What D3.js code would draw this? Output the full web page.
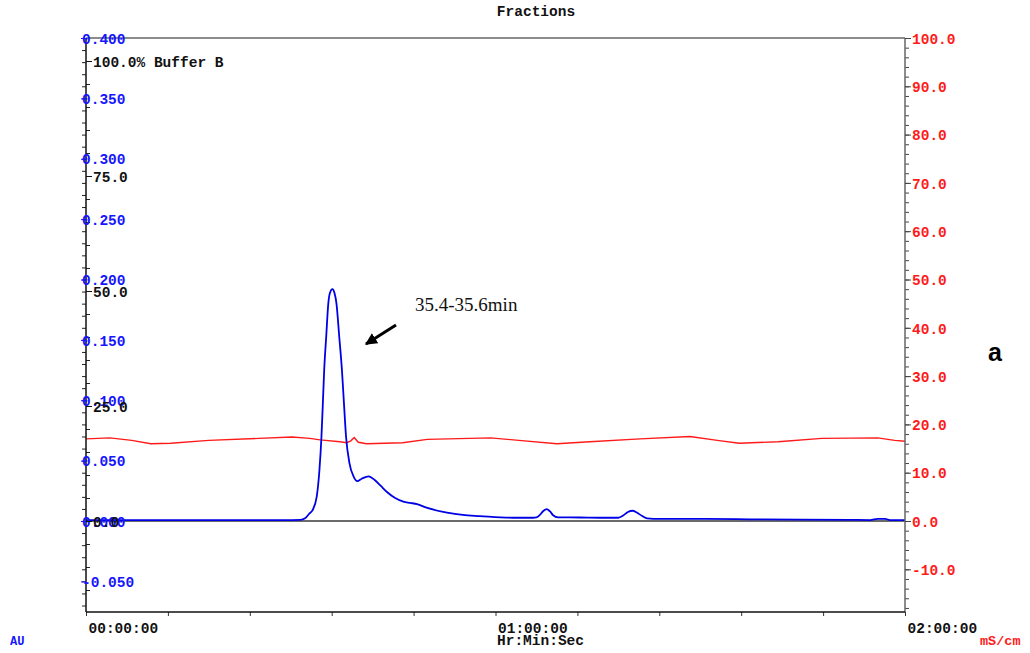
<!DOCTYPE html>
<html><head><meta charset="utf-8">
<script src="https://cdn.jsdelivr.net/npm/d3@7"></script>
<style>
body{margin:0;background:#fff;}
svg{display:block;}
text{font-family:"Liberation Mono","Courier New",monospace;font-weight:bold;font-size:14.5px;}
</style></head>
<body>
<svg id="c" width="1030" height="653"></svg>
<script>
// UV absorbance (AU) vs time (min)
const uvTime = [0,5,10,15,20,25,30,31.4,32.1,32.7,33.2,33.8,34.2,34.5,34.7,34.9,35.2,35.5,35.75,36.1,36.4,36.7,37.1,37.5,37.8,38.1,38.6,39.2,39.75,40.4,41.4,42.3,43.2,44.1,45.3,46.5,47.5,48.5,49.9,52.9,55.2,57.7,62.6,65.5,66.0,66.5,67.0,67.5,68.0,68.4,69.2,72.4,75.3,78.0,78.7,79.4,80.1,80.7,81.5,82.2,84.1,90,97.3,104.6,111.9,114.9,116.0,117.1,117.8,120];
const uvValue = [0.0007,0.0008,0.0007,0.0008,0.0008,0.0007,0.0008,0.0009,0.0022,0.006,0.009,0.020,0.042,0.070,0.097,0.125,0.153,0.180,0.189,0.192,0.189,0.180,0.153,0.125,0.097,0.070,0.048,0.037,0.033,0.035,0.037,0.034,0.029,0.024,0.019,0.016,0.015,0.014,0.011,0.0069,0.005,0.0041,0.0027,0.0027,0.003,0.005,0.0083,0.0099,0.0079,0.005,0.003,0.0029,0.0027,0.0027,0.0045,0.0075,0.0085,0.007,0.0041,0.0022,0.0017,0.0017,0.0014,0.0012,0.001,0.0008,0.0017,0.0017,0.0008,0.0008];
// Conductivity (mS/cm) vs time (min)
const condTime = [0,3.5,6.7,9.5,12.4,18.0,25.3,30.2,32.8,34.3,37.2,38.2,38.8,39.3,39.9,41.1,46.4,50.0,59.3,63.4,69.0,73.8,81.2,88.5,92.5,95.7,101.4,107.8,116.0,118.5,120];
const condValue = [17.0,17.2,16.7,16.0,16.1,16.7,17.1,17.4,17.1,16.8,16.4,16.2,16.6,17.3,16.3,16.0,16.2,16.9,17.2,16.7,16.0,16.4,17.0,17.5,16.7,16.1,16.4,17.1,17.2,16.7,16.5];
// Buffer B concentration (%)
const bufTime = [0,120];
const bufValue = [0,0];
// Tick labels
const auTicks = [-0.05,0,0.05,0.1,0.15,0.2,0.25,0.3,0.35,0.4];
const condTicks = [-10,0,10,20,30,40,50,60,70,80,90,100];
const bufTicks = [0,25,50,75,100];
const timeTicks = [0,60,120];
const timeLabels = ["00:00:00","01:00:00","02:00:00"];

const svg = d3.select("#c");
const L=86,R=905,T=38,B=612;
const x = d3.scaleLinear().domain([0,120]).range([L,R]);
const yAU = d3.scaleLinear().domain([0,0.4]).range([521,T]);
const yC = d3.scaleLinear().domain([0,100]).range([521,T]);
const yB = d3.scaleLinear().domain([0,100]).range([521,61]);

const BLUE="#1515ff", RED="#ff1a1a";
const FONT='"Liberation Mono",monospace';

svg.append("line").attr("x1",L).attr("x2",R).attr("y1",T).attr("y2",T).attr("stroke","#666").attr("stroke-width",1.5);

// Buffer B line (0%)
svg.append("path").datum(bufTime.map((t,i)=>[t,bufValue[i]]))
  .attr("fill","none").attr("stroke","#6a6a6a").attr("stroke-width",2)
  .attr("d",d3.line().x(d=>x(d[0])).y(d=>yB(d[1])));

// conductivity
svg.append("path").datum(condTime.map((t,i)=>[t,condValue[i]]))
  .attr("fill","none").attr("stroke",RED).attr("stroke-width",1.4)
  .attr("d",d3.line().x(d=>x(d[0])).y(d=>yC(d[1])));

// UV
svg.append("path").datum(uvTime.map((t,i)=>[t,uvValue[i]]))
  .attr("fill","none").attr("stroke","#0000e6").attr("stroke-width",1.8)
  .attr("d",d3.line().curve(d3.curveMonotoneX).x(d=>x(d[0])).y(d=>yAU(d[1])));

// Left AU axis (minor)
const auMinor = d3.range(-7,41).map(i=>i/100).filter(v=>yAU(v)<=B && yAU(v)>=T);
svg.append("g").attr("transform",`translate(${L},0)`)
  .call(d3.axisLeft(yAU).tickValues(auMinor).tickSize(4).tickFormat(""))
  .call(g=>{g.select(".domain").remove();g.selectAll("line").attr("stroke","#222");});
const bufMinor = d3.range(-4,21).map(i=>i*5).filter(v=>yB(v)<=B && yB(v)>=T);
svg.append("g").attr("transform",`translate(${L},0)`)
  .call(d3.axisRight(yB).tickValues(bufMinor).tickSize(4).tickFormat(""))
  .call(g=>{g.select(".domain").remove();g.selectAll("line").attr("stroke","#222");});

svg.append("line").attr("x1",L).attr("x2",L).attr("y1",T).attr("y2",B).attr("stroke","#111").attr("stroke-width",1.5);

// AU labels
svg.append("g").attr("transform",`translate(${L},0)`)
  .call(d3.axisLeft(yAU).tickValues(auTicks).tickSize(5).tickFormat(d=>d.toFixed(3)))
  .call(g=>{g.select(".domain").remove();
    g.selectAll("line").attr("stroke",BLUE);
    g.selectAll("text").attr("fill",BLUE).attr("text-anchor","start").attr("x",-4).attr("dy","0.36em")
      .style("font-family",FONT).style("font-size","14.5px").style("font-weight","bold");});

// Buffer B labels
svg.append("g").attr("transform",`translate(${L},0)`)
  .call(d3.axisRight(yB).tickValues(bufTicks).tickSize(6).tickFormat(d=>d===100?"100.0% Buffer B":d.toFixed(1)))
  .call(g=>{g.select(".domain").remove();
    g.selectAll("line").attr("stroke","#111");
    g.selectAll("text").attr("fill","#111").attr("x",7).attr("dy","0.36em")
      .style("font-family",FONT).style("font-size","14.5px").style("font-weight","bold");});

// Right conductivity axis
const cMinor = d3.range(-9,51).map(i=>i*2).filter(v=>yC(v)<=B-2 && yC(v)>=T);
svg.append("g").attr("transform",`translate(${R},0)`)
  .call(d3.axisRight(yC).tickValues(cMinor).tickSize(4).tickFormat(""))
  .call(g=>{g.select(".domain").remove();g.selectAll("line").attr("stroke","#444");});
svg.append("line").attr("x1",R).attr("x2",R).attr("y1",T).attr("y2",B).attr("stroke","#666").attr("stroke-width",1.5);
svg.append("g").attr("transform",`translate(${R},0)`)
  .call(d3.axisRight(yC).tickValues(condTicks).tickSize(6).tickFormat(d=>d.toFixed(1)))
  .call(g=>{g.select(".domain").remove();
    g.selectAll("line").attr("stroke","#444");
    g.selectAll("text").attr("fill",RED).attr("x",7).attr("dy","0.36em")
      .style("font-family",FONT).style("font-size","14.5px").style("font-weight","bold");});

// Bottom time axis
svg.append("g").attr("transform",`translate(0,${B})`)
  .call(d3.axisBottom(x).tickValues(d3.range(0,121,12)).tickSize(4).tickFormat(""))
  .call(g=>{g.select(".domain").remove();g.selectAll("line").attr("stroke","#333");});
svg.append("line").attr("x1",L).attr("x2",R).attr("y1",B).attr("y2",B).attr("stroke","#111").attr("stroke-width",1.5);
svg.append("g").attr("transform",`translate(0,${B})`)
  .call(d3.axisBottom(x).tickValues(timeTicks).tickSize(0).tickFormat((d,i)=>timeLabels[i]))
  .call(g=>{g.select(".domain").remove();
    g.selectAll("text").attr("fill","#111").attr("text-anchor","start").attr("x",2).attr("y",21).attr("dy",0)
      .style("font-family",FONT).style("font-size","14.5px").style("font-weight","bold");});

// titles
svg.append("text").attr("x",536).attr("y",16).attr("text-anchor","middle").attr("fill","#111").text("Fractions");
svg.append("text").attr("x",497).attr("y",645).attr("fill","#111").text("Hr:Min:Sec");
svg.append("text").attr("x",10).attr("y",645).attr("fill",BLUE).style("font-size","12px").text("AU");
svg.append("text").attr("x",980).attr("y",645).attr("fill",RED).style("font-size","13.5px").text("mS/cm");

// annotation
svg.append("text").attr("x",415).attr("y",311).attr("fill","#111")
  .style("font-family",'"Liberation Serif","Times New Roman",serif').style("font-weight","normal").style("font-size","19px")
  .text("35.4-35.6min");
svg.append("defs").append("marker").attr("id","ah").attr("viewBox","0 0 10 10").attr("refX",9).attr("refY",5)
  .attr("markerWidth",4).attr("markerHeight",4).attr("orient","auto")
  .append("path").attr("d","M0,0L10,5L0,10z").attr("fill","#000");
svg.append("line").attr("x1",396).attr("y1",325).attr("x2",366).attr("y2",344)
  .attr("stroke","#000").attr("stroke-width",3).attr("marker-end","url(#ah)");

svg.append("text").attr("x",988).attr("y",361)
  .style("font-family",'"Liberation Sans",Arial,sans-serif').style("font-size","25px").style("font-weight","bold")
  .attr("fill","#000").text("a");
</script>
</body></html>
